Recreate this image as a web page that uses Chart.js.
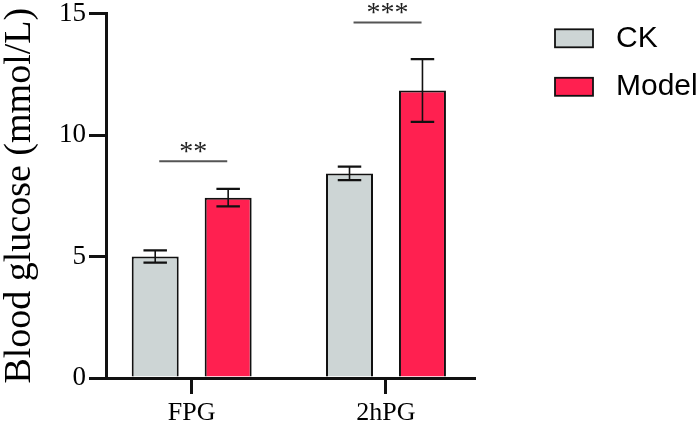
<!DOCTYPE html>
<html>
<head>
<meta charset="utf-8">
<script src="https://cdn.jsdelivr.net/npm/chart.js@4.4.1/dist/chart.umd.min.js"></script>
<style>
  html, body { margin: 0; padding: 0; background: #ffffff; }
  #wrap { width: 700px; height: 426px; position: relative; }
</style>
</head>
<body>
<div id="wrap"><canvas id="chart"></canvas></div>
<script>
// Values
const categories = ['FPG', '2hPG'];
const groupNames = ['CK', 'Model'];
const ckMeans = [5.0, 8.42];
const ckErrors = [0.25, 0.28];
const modelMeans = [7.42, 11.83];
const modelErrors = [0.36, 1.29];
const sigLabels = ['**', '***'];
const sigHeights = [8.92, 14.63];
const yTicks = [0, 5, 10, 15];

const ckColor = '#cdd5d5';
const modelColor = '#ff2050';
const serif = '"Liberation Serif", "Times New Roman", serif';
const sans = '"Liberation Sans", Arial, sans-serif';

const toPoints = (values) => values.map((v, i) => ({ x: i, y: v }));

// Error bars (mean +/- error) drawn on top of each bar
const errorBarPlugin = {
    id: 'errorBars',
    afterDatasetsDraw(chart) {
        const { ctx } = chart;
        const yScale = chart.scales.y;
        chart.data.datasets.forEach((ds, di) => {
            const meta = chart.getDatasetMeta(di);
            meta.data.forEach((bar, i) => {
                const mean = ds.data[i].y;
                const err = ds.errors[i];
                const top = yScale.getPixelForValue(mean + err);
                const bottom = yScale.getPixelForValue(mean - err);
                const half = bar.width * 0.25;
                ctx.save();
                ctx.strokeStyle = '#111111';
                ctx.lineWidth = 1.6;
                ctx.beginPath();
                ctx.moveTo(bar.x, top);
                ctx.lineTo(bar.x, bottom);
                ctx.stroke();
                ctx.lineWidth = 2.2;
                ctx.beginPath();
                ctx.moveTo(bar.x - half, top);
                ctx.lineTo(bar.x + half, top);
                ctx.moveTo(bar.x - half, bottom);
                ctx.lineTo(bar.x + half, bottom);
                ctx.stroke();
                ctx.restore();
            });
        });
    }
};

// Significance lines and stars above each group
const significancePlugin = {
    id: 'significance',
    afterDraw(chart) {
        const { ctx } = chart;
        const xScale = chart.scales.x;
        const yScale = chart.scales.y;
        categories.forEach((c, i) => {
            const x1 = xScale.getPixelForValue(i - 0.167);
            const x2 = xScale.getPixelForValue(i + 0.183);
            const y = yScale.getPixelForValue(sigHeights[i]);
            ctx.save();
            ctx.strokeStyle = '#555555';
            ctx.lineWidth = 2;
            ctx.beginPath();
            ctx.moveTo(x1, y);
            ctx.lineTo(x2, y);
            ctx.stroke();
            ctx.fillStyle = '#222222';
            ctx.font = '28px ' + serif;
            ctx.textAlign = 'center';
            ctx.textBaseline = 'alphabetic';
            ctx.fillText(sigLabels[i], (x1 + x2) / 2, y - 1);
            ctx.restore();
        });
    }
};

// Legend on the right, boxes with black outline
const sideLegendPlugin = {
    id: 'sideLegend',
    afterDraw(chart) {
        const { ctx } = chart;
        chart.data.datasets.forEach((ds, i) => {
            const cy = 38.3 + i * 48.5;
            ctx.save();
            ctx.fillStyle = ds.backgroundColor;
            ctx.strokeStyle = '#111111';
            ctx.lineWidth = 1.8;
            ctx.fillRect(555, cy - 9, 38, 18);
            ctx.strokeRect(555, cy - 9, 38, 18);
            ctx.fillStyle = '#000000';
            ctx.font = '30px ' + sans;
            ctx.textAlign = 'left';
            ctx.textBaseline = 'middle';
            ctx.fillText(ds.label, 616, cy);
            ctx.restore();
        });
    }
};

const chart = new Chart(document.getElementById('chart'), {
    type: 'bar',
    data: {
        datasets: [
            {
                label: groupNames[0],
                data: toPoints(ckMeans),
                errors: ckErrors,
                backgroundColor: ckColor,
                borderColor: '#111111',
                borderWidth: 2
            },
            {
                label: groupNames[1],
                data: toPoints(modelMeans),
                errors: modelErrors,
                backgroundColor: modelColor,
                borderColor: '#111111',
                borderWidth: 2
            }
        ]
    },
    options: {
        responsive: true,
        maintainAspectRatio: false,
        animation: false,
        barPercentage: 0.644,
        categoryPercentage: 0.751,
        layout: {
            padding: { left: 0, top: 13.5, right: 226, bottom: 0 }
        },
        plugins: {
            legend: { display: false },
            tooltip: { enabled: false }
        },
        scales: {
            x: {
                type: 'linear',
                offset: false,
                min: -0.441,
                max: 1.453,
                afterBuildTicks: (scale) => {
                    scale.ticks = categories.map((c, i) => ({ value: i }));
                },
                afterFit: (scale) => {
                    scale.height = 48;
                    scale.paddingLeft = 0;
                    scale.paddingRight = 0;
                },
                ticks: {
                    callback: (value) => categories[value],
                    color: '#000000',
                    padding: 4,
                    font: { family: serif, size: 26 }
                },
                grid: {
                    offset: false,
                    drawOnChartArea: false,
                    tickLength: 16,
                    lineWidth: 3,
                    tickWidth: 3,
                    tickColor: '#111111'
                },
                border: { display: true, color: '#111111', width: 3 }
            },
            y: {
                min: 0,
                max: 15,
                afterBuildTicks: (scale) => {
                    scale.ticks = yTicks.map(v => ({ value: v }));
                },
                afterFit: (scale) => {
                    scale.width = 106;
                    scale.paddingTop = 0;
                    scale.paddingBottom = 0;
                },
                ticks: {
                    color: '#000000',
                    padding: 3,
                    font: { family: serif, size: 27 }
                },
                grid: {
                    drawOnChartArea: false,
                    tickLength: 17,
                    lineWidth: 3,
                    tickWidth: 3,
                    tickColor: '#111111'
                },
                border: { display: true, color: '#111111', width: 3 },
                title: {
                    display: true,
                    text: 'Blood glucose (mmol/L)',
                    color: '#000000',
                    padding: { top: 1, bottom: 0 },
                    font: { family: serif, size: 38, lineHeight: 1 }
                }
            }
        }
    },
    plugins: [errorBarPlugin, significancePlugin, sideLegendPlugin]
});
</script>
</body>
</html>
